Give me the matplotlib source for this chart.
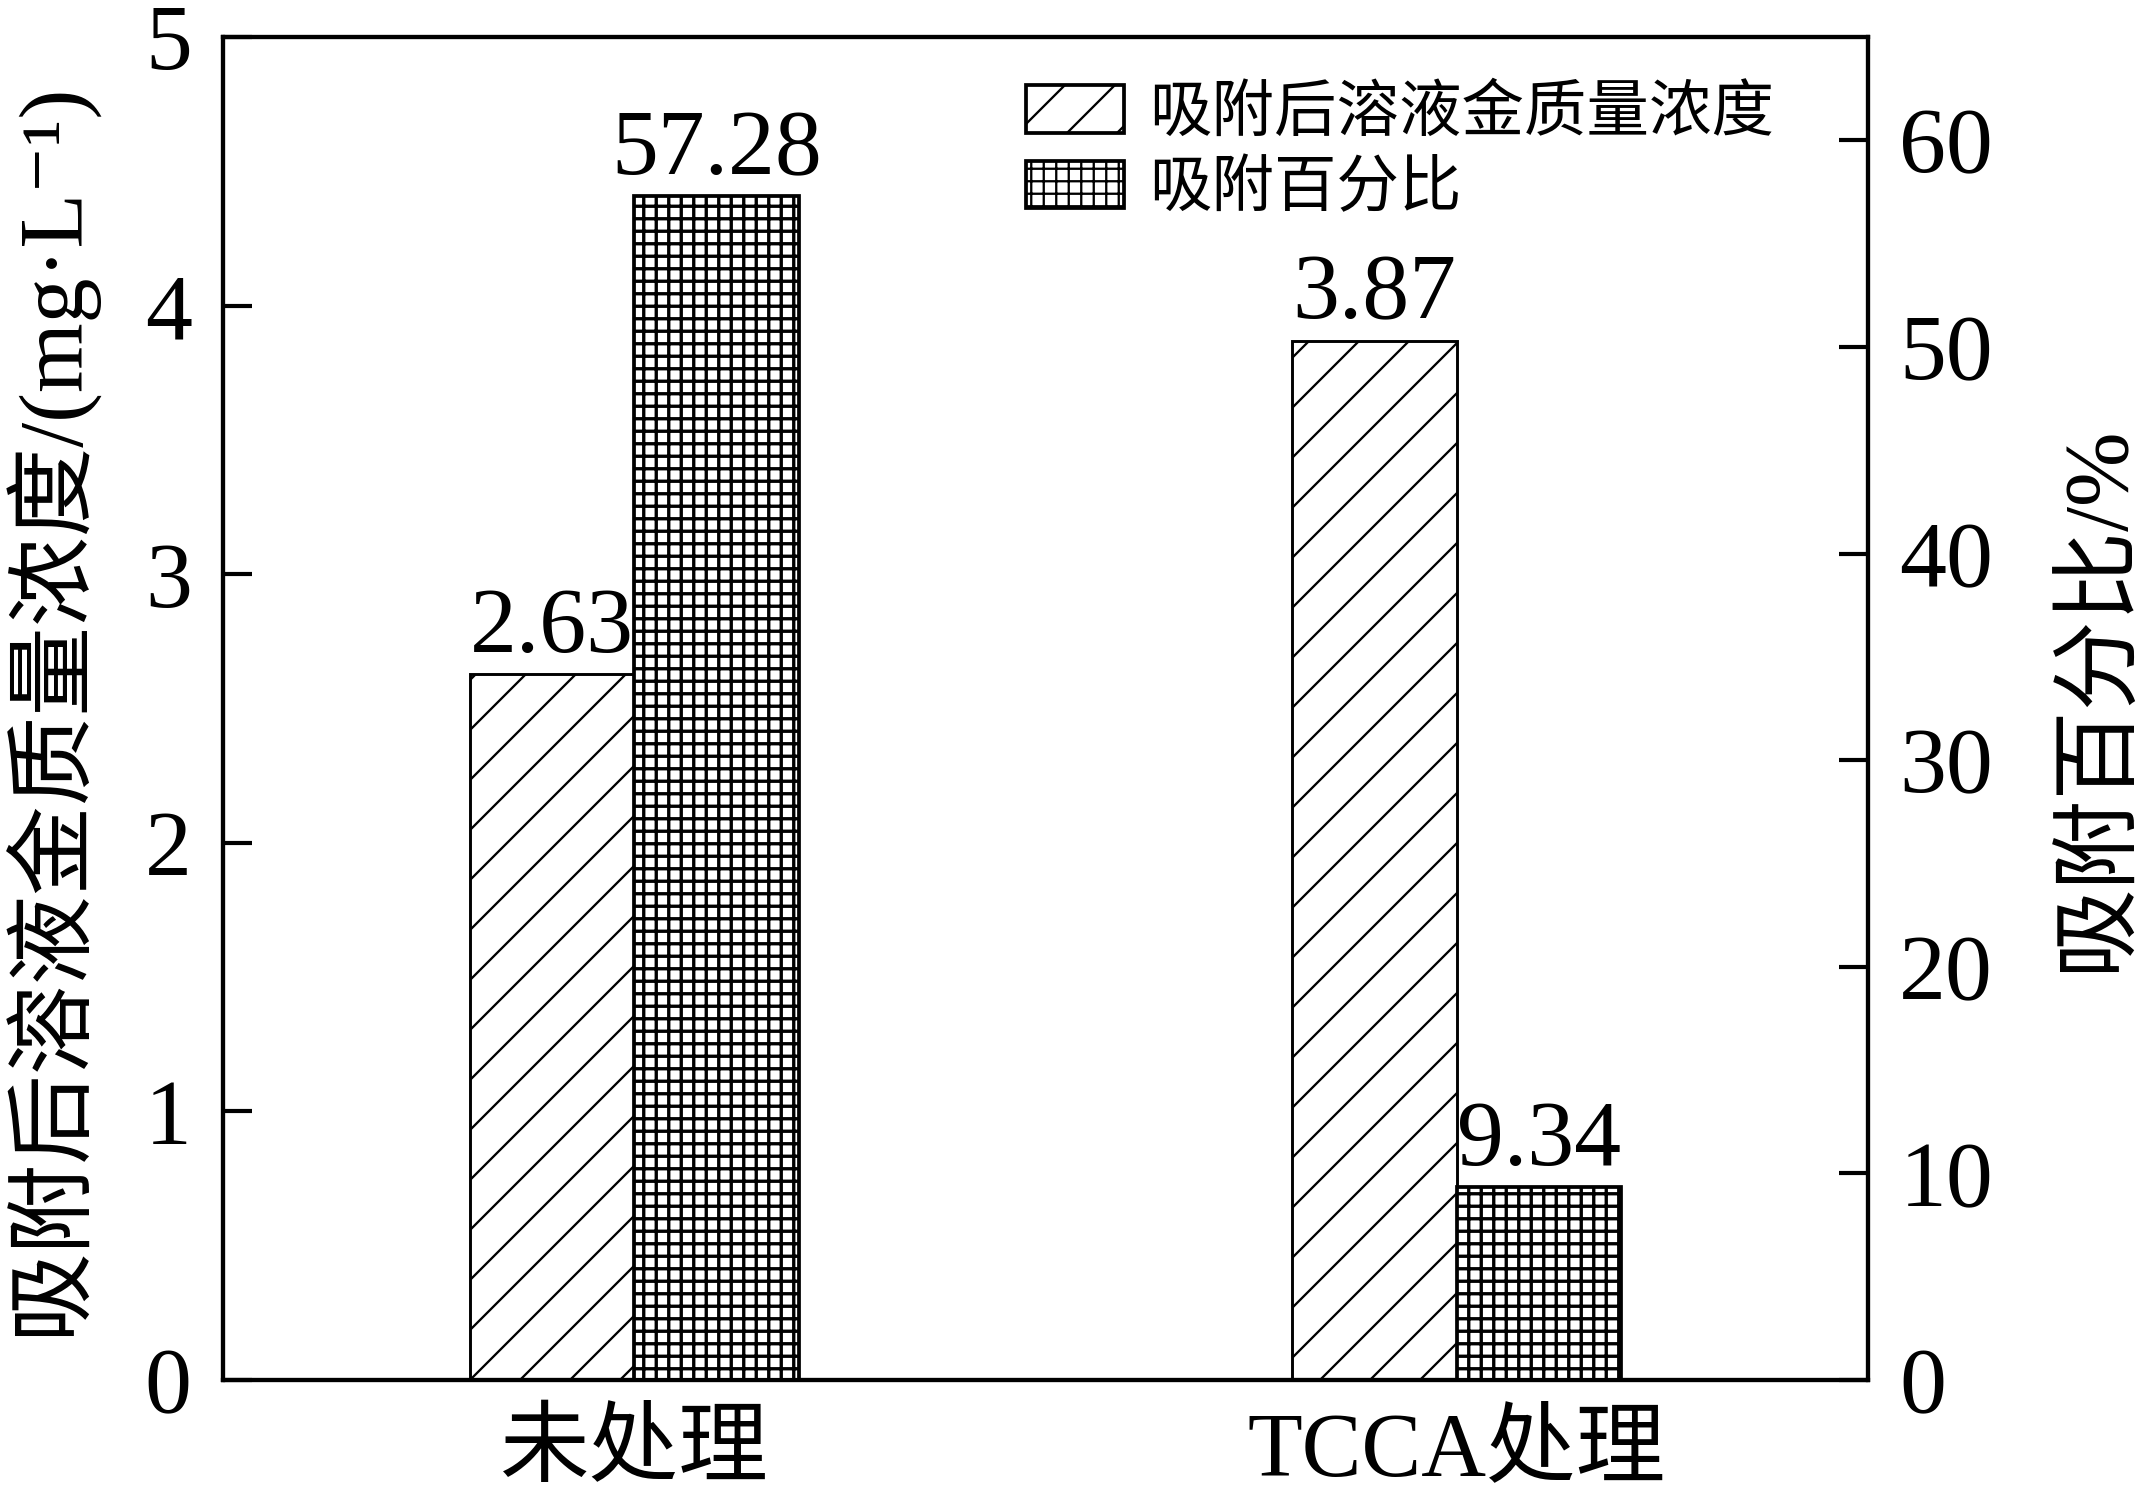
import numpy as np
import matplotlib.pyplot as plt

plt.rcParams['font.family'] = ['Liberation Serif', 'Noto Sans CJK SC', 'DejaVu Serif']
plt.rcParams['hatch.linewidth'] = 1.1

# data
categories = ['未处理', 'TCCA处理']
conc = [2.63, 3.87]        # 吸附后溶液金质量浓度, mg/L
percent = [57.28, 9.34]    # 吸附百分比, %

conc_name = '吸附后溶液金质量浓度'
pct_name = '吸附百分比'

x = np.arange(len(categories))
w = 0.2

fig = plt.figure(figsize=(2146/150, 1503/150), dpi=150)
ax = fig.add_axes([0.1039, 0.0818, 0.7666, 0.8936])
ax2 = ax.twinx()

b1 = ax.bar(x - w/2, conc, w, color='white', edgecolor='black', hatch='/',
            linewidth=1.4, label=conc_name)
b2 = ax2.bar(x + w/2, percent, w, color='white', edgecolor='black', hatch='++',
             linewidth=1.8, label=pct_name)
# thicker grid lines on the percentage bars
for p in b2:
    if hasattr(p, 'set_hatch_linewidth'):
        p.set_hatch_linewidth(1.6)

ax.bar_label(b1, labels=['%.2f' % v for v in conc], padding=1, fontsize=45)
ax2.bar_label(b2, labels=['%.2f' % v for v in percent], padding=1, fontsize=45)

ax.set_xlim(-0.5, 1.5)
ax.set_ylim(0, 5)
ax2.set_ylim(0, 65)
ax.set_yticks(range(0, 6))
ax2.set_yticks(range(0, 61, 10))
ax.set_xticks(x)
ax.set_xticklabels(categories, fontsize=43)

ax.tick_params(axis='y', direction='in', length=14, width=2, labelsize=45, pad=15)
ax2.tick_params(axis='y', direction='in', length=14, width=2, labelsize=45, pad=15)
ax.tick_params(axis='x', length=0, pad=15)

for a in (ax, ax2):
    for s in a.spines.values():
        s.set_linewidth(2)

ax.set_ylabel('吸附后溶液金质量浓度/(mg·L⁻¹)', fontsize=43)
ax.yaxis.set_label_coords(-0.077, 0.5)
ax2.set_ylabel('吸附百分比/%', fontsize=43, rotation=90)
ax2.yaxis.set_label_coords(1.1155, 0.508)

leg = ax2.legend(handles=[b1, b2], loc='upper left', bbox_to_anchor=(0.488, 0.964),
                 frameon=False, fontsize=30, borderpad=0, borderaxespad=0,
                 handlelength=1.57, handleheight=0.8, handletextpad=0.4,
                 labelspacing=0.25)
for h in leg.legend_handles:
    h.set_linewidth(1.8)

fig.savefig('out.png', dpi=150)
